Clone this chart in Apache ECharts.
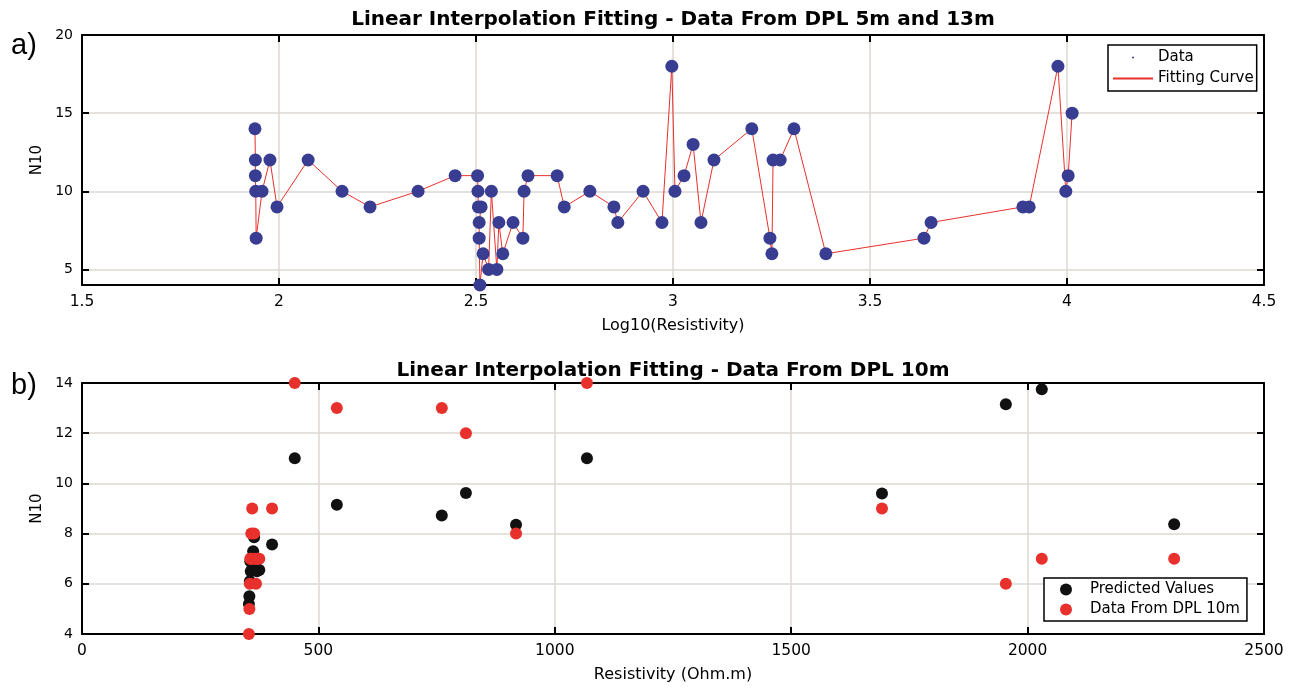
<!DOCTYPE html>
<html>
<head>
<meta charset="utf-8">
<script src="https://cdn.jsdelivr.net/npm/echarts@6/dist/echarts.min.js"></script>
<style>
  html, body { margin: 0; padding: 0; background: #ffffff; }
  #chart { width: 1298px; height: 689px; }
</style>
</head>
<body>
<div id="chart"></div>
<script>
// Panel a) — DPL 5m and 13m: log10 resistivity vs N10, joined by a linear fit
const logResistivity = [
  1.939, 1.940, 1.940, 1.941, 1.942, 1.957, 1.977, 1.995, 2.074, 2.160,
  2.231, 2.353, 2.447, 2.504, 2.505, 2.506, 2.513, 2.508, 2.508, 2.510,
  2.518, 2.532, 2.539, 2.553, 2.558, 2.568, 2.594, 2.619, 2.622, 2.632,
  2.706, 2.724, 2.789, 2.850, 2.860, 2.924, 2.972, 2.997, 3.005, 3.028,
  3.051, 3.071, 3.104, 3.200, 3.246, 3.251, 3.254, 3.272, 3.307, 3.388,
  3.637, 3.655, 3.888, 3.904, 3.977, 3.997, 4.003, 4.013
];
const n10Fit = [
  14, 12, 11, 10, 7, 10, 12, 9, 12, 10,
  9, 10, 11, 11, 10, 9, 9, 8, 7, 4,
  6, 5, 10, 5, 8, 6, 8, 7, 10, 11,
  11, 9, 10, 9, 8, 10, 8, 18, 10, 11,
  13, 8, 12, 14, 7, 6, 12, 12, 14, 6,
  7, 8, 9, 9, 18, 10, 11, 15
];

// Panel b) — DPL 10m: resistivity (Ohm.m), predicted N10 and measured N10
const resistivity = [
  353, 354, 355, 356, 357, 358, 360, 362, 364, 366,
  368, 370, 372, 375, 402, 450, 539, 761, 812, 918,
  1068, 1692, 1954, 2030, 2310
];
const predicted = [
  5.2, 5.5, 6.1, 6.9, 6.5, 7.0, 6.6, 7.3, 7.85, 6.8,
  6.55, 6.5, 6.55, 6.55, 7.57, 11.0, 9.15, 8.72, 9.62, 8.35,
  11.0, 9.6, 13.15, 13.75, 8.37
];
const dpl10m = [
  4, 5, 6, 7, 7, 8, 9, 7, 8, 7,
  6, 7, 7, 7, 9, 14, 13, 13, 12, 8,
  14, 9, 6, 7, 7
];

// Tick values for panel a)'s N10 axis (axis itself starts at 4)
const n10TopTicks = [5, 10, 15, 20];

const FONT = '"DejaVu Sans", Verdana, sans-serif';
const PANEL_FONT = '"Liberation Sans", Arial, Helvetica, sans-serif';
const BLACK = '#000000';
const GRID_COLOR = '#ddd7d1';
const NAVY = '#393d92';
const RED = '#e8302c';

const pairs = (xs, ys) => xs.map((x, i) => [x, ys[i]]);

const axisLine = { show: true, onZero: false, lineStyle: { color: BLACK, width: 2 } };
const innerTick = { show: true, inside: true, length: 7, lineStyle: { color: BLACK, width: 2 } };
const gridLine = { show: true, lineStyle: { color: GRID_COLOR, width: 1.5 } };
const tickText = { color: BLACK, fontSize: 15.5, fontFamily: FONT };
const nameText = { color: BLACK, fontSize: 16, fontFamily: FONT };

function xAxisPair(gridIndex, min, max, interval, name) {
  return [
    {
      gridIndex, type: 'value', position: 'bottom', min, max, interval,
      axisLine, axisTick: innerTick,
      axisLabel: Object.assign({ margin: 9, formatter: v => String(v) }, tickText),
      splitLine: gridLine,
      name, nameLocation: 'middle', nameGap: 33, nameTextStyle: nameText
    },
    {
      gridIndex, type: 'value', position: 'top', min, max, interval,
      axisLine, axisTick: innerTick,
      axisLabel: { show: false }, splitLine: { show: false }
    }
  ];
}

function yAxisPair(gridIndex, min, max, interval, customTicks) {
  const left = {
    gridIndex, type: 'value', position: 'left', min, max,
    axisLine, axisTick: Object.assign({}, innerTick),
    axisLabel: Object.assign({ margin: 9 }, tickText, { fontSize: 14 }),
    splitLine: gridLine,
    name: 'N10', nameLocation: 'middle', nameGap: 37, nameRotate: 90,
    nameTextStyle: Object.assign({}, nameText, { fontSize: 15 })
  };
  const right = {
    gridIndex, type: 'value', position: 'right', min, max,
    axisLine, axisTick: Object.assign({}, innerTick),
    axisLabel: { show: false }, splitLine: { show: false }
  };
  if (customTicks) {
    left.axisTick.customValues = customTicks;
    left.axisLabel.customValues = customTicks;
    right.axisTick.customValues = customTicks;
  } else {
    left.interval = interval;
    right.interval = interval;
  }
  return [left, right];
}

const chart = echarts.init(document.getElementById('chart'), null, { renderer: 'canvas' });

chart.setOption({
  backgroundColor: '#ffffff',
  animation: false,
  textStyle: { fontFamily: FONT },
  title: [
    {
      text: 'Linear Interpolation Fitting - Data From DPL 5m and 13m',
      left: 673, top: 10, textAlign: 'center', padding: 0,
      textStyle: { fontSize: 20, fontWeight: 'bold', color: BLACK, fontFamily: FONT }
    },
    {
      text: 'Linear Interpolation Fitting - Data From DPL 10m',
      left: 673, top: 361, textAlign: 'center', padding: 0,
      textStyle: { fontSize: 20, fontWeight: 'bold', color: BLACK, fontFamily: FONT }
    }
  ],
  graphic: [
    { type: 'text', left: 11, top: 31, style: { text: 'a)', font: '29px ' + PANEL_FONT, fill: BLACK } },
    { type: 'text', left: 11, top: 371, style: { text: 'b)', font: '29px ' + PANEL_FONT, fill: BLACK } }
  ],
  grid: [
    { left: 82, top: 35, width: 1182, height: 250 },
    { left: 82, top: 383, width: 1182, height: 251 }
  ],
  xAxis: [
    ...xAxisPair(0, 1.5, 4.5, 0.5, 'Log10(Resistivity)'),
    ...xAxisPair(1, 0, 2500, 500, 'Resistivity (Ohm.m)')
  ],
  yAxis: [
    ...yAxisPair(0, 4, 20, null, n10TopTicks),
    ...yAxisPair(1, 4, 14, 2, null)
  ],
  legend: [
    {
      orient: 'vertical', left: 1108, top: 45,
      padding: [5, 3, 5, 5], itemGap: 6,
      itemWidth: 40, itemHeight: 2,
      borderColor: BLACK, borderWidth: 1.5, backgroundColor: '#ffffff',
      textStyle: { color: BLACK, fontSize: 15, fontFamily: FONT },
      data: [{ name: 'Data', icon: 'circle' }, { name: 'Fitting Curve', icon: 'rect' }]
    },
    {
      orient: 'vertical', left: 1044, top: 578,
      padding: [4, 7, 4, 16], itemGap: 5,
      itemWidth: 38, itemHeight: 12,
      borderColor: BLACK, borderWidth: 1.5, backgroundColor: '#ffffff',
      textStyle: { color: BLACK, fontSize: 15, fontFamily: FONT },
      data: [{ name: 'Predicted Values', icon: 'circle' }, { name: 'Data From DPL 10m', icon: 'circle' }]
    }
  ],
  series: [
    {
      name: 'Fitting Curve', type: 'line', xAxisIndex: 0, yAxisIndex: 0,
      data: pairs(logResistivity, n10Fit),
      symbol: 'none', showSymbol: false, z: 3,
      color: RED, lineStyle: { color: RED, width: 1 }
    },
    {
      name: 'Data', type: 'scatter', xAxisIndex: 0, yAxisIndex: 0,
      data: pairs(logResistivity, n10Fit),
      symbol: 'circle', symbolSize: 13, z: 4,
      color: NAVY, itemStyle: { color: NAVY, opacity: 1 }
    },
    {
      name: 'Predicted Values', type: 'scatter', xAxisIndex: 2, yAxisIndex: 2,
      data: pairs(resistivity, predicted),
      symbol: 'circle', symbolSize: 12, z: 3,
      color: '#111111', itemStyle: { color: '#111111', opacity: 1 }
    },
    {
      name: 'Data From DPL 10m', type: 'scatter', xAxisIndex: 2, yAxisIndex: 2,
      data: pairs(resistivity, dpl10m),
      symbol: 'circle', symbolSize: 12, z: 4,
      color: RED, itemStyle: { color: RED, opacity: 1 }
    }
  ]
});
</script>
</body>
</html>
